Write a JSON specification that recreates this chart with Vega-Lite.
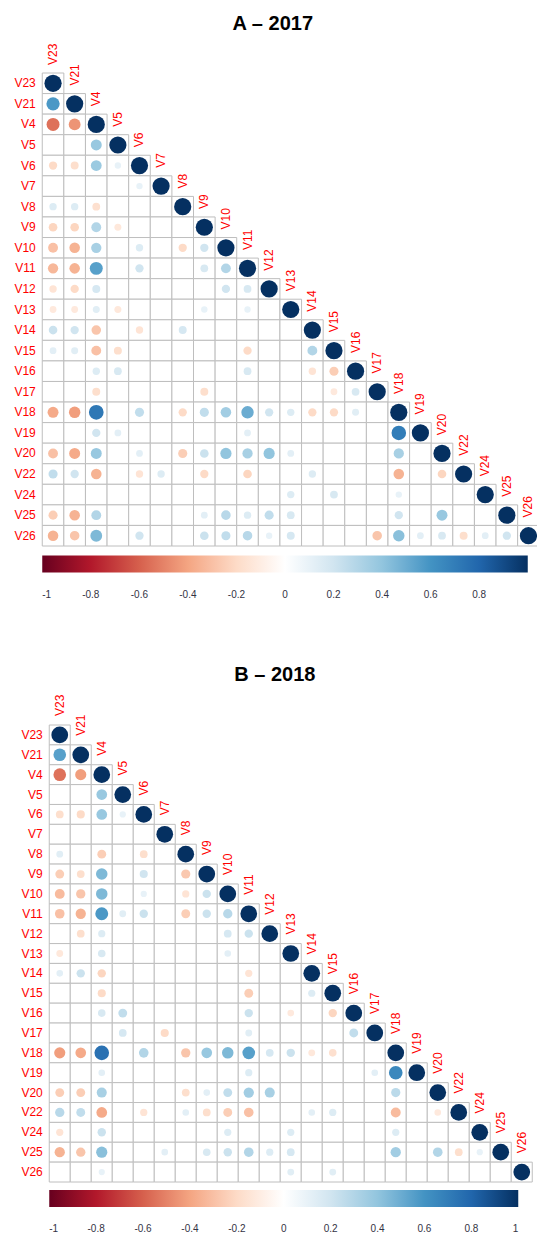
{
"$schema": "https://vega.github.io/schema/vega-lite/v6.json",
"padding": {"left": 13, "top": 13, "right": 0, "bottom": 0},
"config": {"view": {"stroke": null}, "axis": {"labelFont": "Liberation Sans"}, "legend": {"labelFont": "Liberation Sans"}, "text": {"font": "Liberation Sans"}},
"datasets": {
"A": [
{"x":"V23","y":"V23","r":1},
{"x":"V23","y":"V21","r":0.58},{"x":"V21","y":"V21","r":1},
{"x":"V23","y":"V4","r":-0.55},{"x":"V21","y":"V4","r":-0.45},{"x":"V4","y":"V4","r":1},
{"x":"V23","y":"V5","r":0},{"x":"V21","y":"V5","r":0},{"x":"V4","y":"V5","r":0.38},{"x":"V5","y":"V5","r":1},
{"x":"V23","y":"V6","r":-0.2},{"x":"V21","y":"V6","r":-0.18},{"x":"V4","y":"V6","r":0.37},{"x":"V5","y":"V6","r":0.1},{"x":"V6","y":"V6","r":1},
{"x":"V23","y":"V7","r":0},{"x":"V21","y":"V7","r":0},{"x":"V4","y":"V7","r":0},{"x":"V5","y":"V7","r":0},{"x":"V6","y":"V7","r":0.1},{"x":"V7","y":"V7","r":1},
{"x":"V23","y":"V8","r":0.15},{"x":"V21","y":"V8","r":0.15},{"x":"V4","y":"V8","r":-0.17},{"x":"V5","y":"V8","r":0},{"x":"V6","y":"V8","r":0},{"x":"V7","y":"V8","r":0},{"x":"V8","y":"V8","r":1},
{"x":"V23","y":"V9","r":-0.22},{"x":"V21","y":"V9","r":-0.22},{"x":"V4","y":"V9","r":0.3},{"x":"V5","y":"V9","r":-0.13},{"x":"V6","y":"V9","r":0},{"x":"V7","y":"V9","r":0},{"x":"V8","y":"V9","r":0},{"x":"V9","y":"V9","r":1},
{"x":"V23","y":"V10","r":-0.3},{"x":"V21","y":"V10","r":-0.35},{"x":"V4","y":"V10","r":0.33},{"x":"V5","y":"V10","r":0},{"x":"V6","y":"V10","r":0.15},{"x":"V7","y":"V10","r":0},{"x":"V8","y":"V10","r":-0.2},{"x":"V9","y":"V10","r":0.2},{"x":"V10","y":"V10","r":1},
{"x":"V23","y":"V11","r":-0.33},{"x":"V21","y":"V11","r":-0.35},{"x":"V4","y":"V11","r":0.55},{"x":"V5","y":"V11","r":0},{"x":"V6","y":"V11","r":0.2},{"x":"V7","y":"V11","r":0},{"x":"V8","y":"V11","r":0},{"x":"V9","y":"V11","r":0.17},{"x":"V10","y":"V11","r":0.3},{"x":"V11","y":"V11","r":1},
{"x":"V23","y":"V12","r":-0.15},{"x":"V21","y":"V12","r":-0.2},{"x":"V4","y":"V12","r":0.18},{"x":"V5","y":"V12","r":0},{"x":"V6","y":"V12","r":0},{"x":"V7","y":"V12","r":0},{"x":"V8","y":"V12","r":0},{"x":"V9","y":"V12","r":0},{"x":"V10","y":"V12","r":0.2},{"x":"V11","y":"V12","r":0.17},{"x":"V12","y":"V12","r":1},
{"x":"V23","y":"V13","r":-0.12},{"x":"V21","y":"V13","r":-0.12},{"x":"V4","y":"V13","r":0.13},{"x":"V5","y":"V13","r":-0.13},{"x":"V6","y":"V13","r":0},{"x":"V7","y":"V13","r":0},{"x":"V8","y":"V13","r":0},{"x":"V9","y":"V13","r":0.1},{"x":"V10","y":"V13","r":0},{"x":"V11","y":"V13","r":0.1},{"x":"V12","y":"V13","r":0},{"x":"V13","y":"V13","r":1},
{"x":"V23","y":"V14","r":0.22},{"x":"V21","y":"V14","r":0.2},{"x":"V4","y":"V14","r":-0.28},{"x":"V5","y":"V14","r":0},{"x":"V6","y":"V14","r":-0.15},{"x":"V7","y":"V14","r":0},{"x":"V8","y":"V14","r":0.18},{"x":"V9","y":"V14","r":0},{"x":"V10","y":"V14","r":0},{"x":"V11","y":"V14","r":0},{"x":"V12","y":"V14","r":0},{"x":"V13","y":"V14","r":0},{"x":"V14","y":"V14","r":1},
{"x":"V23","y":"V15","r":0.12},{"x":"V21","y":"V15","r":0.13},{"x":"V4","y":"V15","r":-0.3},{"x":"V5","y":"V15","r":-0.18},{"x":"V6","y":"V15","r":0},{"x":"V7","y":"V15","r":0},{"x":"V8","y":"V15","r":0},{"x":"V9","y":"V15","r":0},{"x":"V10","y":"V15","r":0},{"x":"V11","y":"V15","r":-0.2},{"x":"V12","y":"V15","r":0},{"x":"V13","y":"V15","r":0},{"x":"V14","y":"V15","r":0.3},{"x":"V15","y":"V15","r":1},
{"x":"V23","y":"V16","r":0},{"x":"V21","y":"V16","r":0},{"x":"V4","y":"V16","r":0.15},{"x":"V5","y":"V16","r":0.17},{"x":"V6","y":"V16","r":0},{"x":"V7","y":"V16","r":0},{"x":"V8","y":"V16","r":0},{"x":"V9","y":"V16","r":0},{"x":"V10","y":"V16","r":0},{"x":"V11","y":"V16","r":0.17},{"x":"V12","y":"V16","r":0},{"x":"V13","y":"V16","r":0},{"x":"V14","y":"V16","r":-0.15},{"x":"V15","y":"V16","r":-0.25},{"x":"V16","y":"V16","r":1},
{"x":"V23","y":"V17","r":0},{"x":"V21","y":"V17","r":0},{"x":"V4","y":"V17","r":-0.18},{"x":"V5","y":"V17","r":0},{"x":"V6","y":"V17","r":0},{"x":"V7","y":"V17","r":0},{"x":"V8","y":"V17","r":0},{"x":"V9","y":"V17","r":-0.18},{"x":"V10","y":"V17","r":0},{"x":"V11","y":"V17","r":0},{"x":"V12","y":"V17","r":0},{"x":"V13","y":"V17","r":0},{"x":"V14","y":"V17","r":0},{"x":"V15","y":"V17","r":-0.12},{"x":"V16","y":"V17","r":0.17},{"x":"V17","y":"V17","r":1},
{"x":"V23","y":"V18","r":-0.38},{"x":"V21","y":"V18","r":-0.42},{"x":"V4","y":"V18","r":0.72},{"x":"V5","y":"V18","r":0},{"x":"V6","y":"V18","r":0.25},{"x":"V7","y":"V18","r":0},{"x":"V8","y":"V18","r":-0.2},{"x":"V9","y":"V18","r":0.25},{"x":"V10","y":"V18","r":0.35},{"x":"V11","y":"V18","r":0.5},{"x":"V12","y":"V18","r":0.2},{"x":"V13","y":"V18","r":0.15},{"x":"V14","y":"V18","r":-0.2},{"x":"V15","y":"V18","r":-0.2},{"x":"V16","y":"V18","r":0.13},{"x":"V17","y":"V18","r":0},{"x":"V18","y":"V18","r":1},
{"x":"V23","y":"V19","r":0},{"x":"V21","y":"V19","r":0},{"x":"V4","y":"V19","r":0.2},{"x":"V5","y":"V19","r":0.12},{"x":"V6","y":"V19","r":0},{"x":"V7","y":"V19","r":0},{"x":"V8","y":"V19","r":0},{"x":"V9","y":"V19","r":0},{"x":"V10","y":"V19","r":0},{"x":"V11","y":"V19","r":0.12},{"x":"V12","y":"V19","r":0},{"x":"V13","y":"V19","r":0},{"x":"V14","y":"V19","r":0},{"x":"V15","y":"V19","r":0},{"x":"V16","y":"V19","r":0},{"x":"V17","y":"V19","r":0},{"x":"V18","y":"V19","r":0.7},{"x":"V19","y":"V19","r":1},
{"x":"V23","y":"V20","r":-0.3},{"x":"V21","y":"V20","r":-0.38},{"x":"V4","y":"V20","r":0.38},{"x":"V5","y":"V20","r":0},{"x":"V6","y":"V20","r":0.12},{"x":"V7","y":"V20","r":0},{"x":"V8","y":"V20","r":-0.25},{"x":"V9","y":"V20","r":0.22},{"x":"V10","y":"V20","r":0.4},{"x":"V11","y":"V20","r":0.33},{"x":"V12","y":"V20","r":0.4},{"x":"V13","y":"V20","r":0.12},{"x":"V14","y":"V20","r":0},{"x":"V15","y":"V20","r":0},{"x":"V16","y":"V20","r":0},{"x":"V17","y":"V20","r":0},{"x":"V18","y":"V20","r":0.33},{"x":"V19","y":"V20","r":0},{"x":"V20","y":"V20","r":1},
{"x":"V23","y":"V22","r":0.25},{"x":"V21","y":"V22","r":0.2},{"x":"V4","y":"V22","r":-0.35},{"x":"V5","y":"V22","r":0},{"x":"V6","y":"V22","r":-0.15},{"x":"V7","y":"V22","r":0.15},{"x":"V8","y":"V22","r":0},{"x":"V9","y":"V22","r":-0.2},{"x":"V10","y":"V22","r":0},{"x":"V11","y":"V22","r":-0.22},{"x":"V12","y":"V22","r":0},{"x":"V13","y":"V22","r":0},{"x":"V14","y":"V22","r":0.15},{"x":"V15","y":"V22","r":0},{"x":"V16","y":"V22","r":0},{"x":"V17","y":"V22","r":0},{"x":"V18","y":"V22","r":-0.35},{"x":"V19","y":"V22","r":0},{"x":"V20","y":"V22","r":-0.22},{"x":"V22","y":"V22","r":1},
{"x":"V23","y":"V24","r":0},{"x":"V21","y":"V24","r":0},{"x":"V4","y":"V24","r":0},{"x":"V5","y":"V24","r":0},{"x":"V6","y":"V24","r":0},{"x":"V7","y":"V24","r":0},{"x":"V8","y":"V24","r":0},{"x":"V9","y":"V24","r":0},{"x":"V10","y":"V24","r":0},{"x":"V11","y":"V24","r":0},{"x":"V12","y":"V24","r":0},{"x":"V13","y":"V24","r":0.15},{"x":"V14","y":"V24","r":0},{"x":"V15","y":"V24","r":0.17},{"x":"V16","y":"V24","r":0},{"x":"V17","y":"V24","r":0},{"x":"V18","y":"V24","r":0.1},{"x":"V19","y":"V24","r":0},{"x":"V20","y":"V24","r":0},{"x":"V22","y":"V24","r":0},{"x":"V24","y":"V24","r":1},
{"x":"V23","y":"V25","r":-0.25},{"x":"V21","y":"V25","r":-0.35},{"x":"V4","y":"V25","r":0.3},{"x":"V5","y":"V25","r":0},{"x":"V6","y":"V25","r":0},{"x":"V7","y":"V25","r":0},{"x":"V8","y":"V25","r":0},{"x":"V9","y":"V25","r":0.12},{"x":"V10","y":"V25","r":0.28},{"x":"V11","y":"V25","r":0.15},{"x":"V12","y":"V25","r":0.25},{"x":"V13","y":"V25","r":0.17},{"x":"V14","y":"V25","r":0},{"x":"V15","y":"V25","r":0},{"x":"V16","y":"V25","r":0},{"x":"V17","y":"V25","r":0},{"x":"V18","y":"V25","r":0.2},{"x":"V19","y":"V25","r":0},{"x":"V20","y":"V25","r":0.38},{"x":"V22","y":"V25","r":0},{"x":"V24","y":"V25","r":0},{"x":"V25","y":"V25","r":1},
{"x":"V23","y":"V26","r":-0.35},{"x":"V21","y":"V26","r":-0.28},{"x":"V4","y":"V26","r":0.45},{"x":"V5","y":"V26","r":0},{"x":"V6","y":"V26","r":0.2},{"x":"V7","y":"V26","r":0},{"x":"V8","y":"V26","r":0},{"x":"V9","y":"V26","r":0.22},{"x":"V10","y":"V26","r":0.25},{"x":"V11","y":"V26","r":0.28},{"x":"V12","y":"V26","r":0.1},{"x":"V13","y":"V26","r":0.18},{"x":"V14","y":"V26","r":0},{"x":"V15","y":"V26","r":0},{"x":"V16","y":"V26","r":0},{"x":"V17","y":"V26","r":-0.28},{"x":"V18","y":"V26","r":0.42},{"x":"V19","y":"V26","r":0.12},{"x":"V20","y":"V26","r":0.17},{"x":"V22","y":"V26","r":-0.18},{"x":"V24","y":"V26","r":0.12},{"x":"V25","y":"V26","r":0.2},{"x":"V26","y":"V26","r":1}
],
"B": [
{"x":"V23","y":"V23","r":1},
{"x":"V23","y":"V21","r":0.55},{"x":"V21","y":"V21","r":1},
{"x":"V23","y":"V4","r":-0.55},{"x":"V21","y":"V4","r":-0.42},{"x":"V4","y":"V4","r":1},
{"x":"V23","y":"V5","r":0},{"x":"V21","y":"V5","r":0},{"x":"V4","y":"V5","r":0.38},{"x":"V5","y":"V5","r":1},
{"x":"V23","y":"V6","r":-0.18},{"x":"V21","y":"V6","r":-0.2},{"x":"V4","y":"V6","r":0.38},{"x":"V5","y":"V6","r":0.1},{"x":"V6","y":"V6","r":1},
{"x":"V23","y":"V7","r":0},{"x":"V21","y":"V7","r":0},{"x":"V4","y":"V7","r":0},{"x":"V5","y":"V7","r":0},{"x":"V6","y":"V7","r":0},{"x":"V7","y":"V7","r":1},
{"x":"V23","y":"V8","r":0.13},{"x":"V21","y":"V8","r":0},{"x":"V4","y":"V8","r":-0.25},{"x":"V5","y":"V8","r":0},{"x":"V6","y":"V8","r":-0.18},{"x":"V7","y":"V8","r":0},{"x":"V8","y":"V8","r":1},
{"x":"V23","y":"V9","r":-0.25},{"x":"V21","y":"V9","r":-0.18},{"x":"V4","y":"V9","r":0.45},{"x":"V5","y":"V9","r":0},{"x":"V6","y":"V9","r":0.2},{"x":"V7","y":"V9","r":0},{"x":"V8","y":"V9","r":-0.27},{"x":"V9","y":"V9","r":1},
{"x":"V23","y":"V10","r":-0.32},{"x":"V21","y":"V10","r":-0.28},{"x":"V4","y":"V10","r":0.45},{"x":"V5","y":"V10","r":0},{"x":"V6","y":"V10","r":0.1},{"x":"V7","y":"V10","r":0},{"x":"V8","y":"V10","r":-0.15},{"x":"V9","y":"V10","r":0.22},{"x":"V10","y":"V10","r":1},
{"x":"V23","y":"V11","r":-0.3},{"x":"V21","y":"V11","r":-0.35},{"x":"V4","y":"V11","r":0.58},{"x":"V5","y":"V11","r":0.13},{"x":"V6","y":"V11","r":0.22},{"x":"V7","y":"V11","r":0},{"x":"V8","y":"V11","r":-0.25},{"x":"V9","y":"V11","r":0.22},{"x":"V10","y":"V11","r":0.28},{"x":"V11","y":"V11","r":1},
{"x":"V23","y":"V12","r":0},{"x":"V21","y":"V12","r":-0.18},{"x":"V4","y":"V12","r":0.15},{"x":"V5","y":"V12","r":0},{"x":"V6","y":"V12","r":0},{"x":"V7","y":"V12","r":0},{"x":"V8","y":"V12","r":0},{"x":"V9","y":"V12","r":0},{"x":"V10","y":"V12","r":0.18},{"x":"V11","y":"V12","r":0.22},{"x":"V12","y":"V12","r":1},
{"x":"V23","y":"V13","r":-0.13},{"x":"V21","y":"V13","r":0},{"x":"V4","y":"V13","r":0.17},{"x":"V5","y":"V13","r":0},{"x":"V6","y":"V13","r":0},{"x":"V7","y":"V13","r":0},{"x":"V8","y":"V13","r":0},{"x":"V9","y":"V13","r":0},{"x":"V10","y":"V13","r":0.12},{"x":"V11","y":"V13","r":0},{"x":"V12","y":"V13","r":0},{"x":"V13","y":"V13","r":1},
{"x":"V23","y":"V14","r":0.12},{"x":"V21","y":"V14","r":0.22},{"x":"V4","y":"V14","r":-0.22},{"x":"V5","y":"V14","r":0},{"x":"V6","y":"V14","r":0},{"x":"V7","y":"V14","r":0},{"x":"V8","y":"V14","r":0},{"x":"V9","y":"V14","r":0},{"x":"V10","y":"V14","r":0},{"x":"V11","y":"V14","r":-0.15},{"x":"V12","y":"V14","r":0},{"x":"V13","y":"V14","r":0},{"x":"V14","y":"V14","r":1},
{"x":"V23","y":"V15","r":0},{"x":"V21","y":"V15","r":0},{"x":"V4","y":"V15","r":-0.2},{"x":"V5","y":"V15","r":0},{"x":"V6","y":"V15","r":0},{"x":"V7","y":"V15","r":0},{"x":"V8","y":"V15","r":0},{"x":"V9","y":"V15","r":0},{"x":"V10","y":"V15","r":0},{"x":"V11","y":"V15","r":-0.25},{"x":"V12","y":"V15","r":0},{"x":"V13","y":"V15","r":0},{"x":"V14","y":"V15","r":0.15},{"x":"V15","y":"V15","r":1},
{"x":"V23","y":"V16","r":0},{"x":"V21","y":"V16","r":0},{"x":"V4","y":"V16","r":0.17},{"x":"V5","y":"V16","r":0.25},{"x":"V6","y":"V16","r":0},{"x":"V7","y":"V16","r":0},{"x":"V8","y":"V16","r":0},{"x":"V9","y":"V16","r":0},{"x":"V10","y":"V16","r":0},{"x":"V11","y":"V16","r":0.22},{"x":"V12","y":"V16","r":0},{"x":"V13","y":"V16","r":-0.12},{"x":"V14","y":"V16","r":0},{"x":"V15","y":"V16","r":-0.22},{"x":"V16","y":"V16","r":1},
{"x":"V23","y":"V17","r":0},{"x":"V21","y":"V17","r":0},{"x":"V4","y":"V17","r":0},{"x":"V5","y":"V17","r":0.18},{"x":"V6","y":"V17","r":0},{"x":"V7","y":"V17","r":-0.2},{"x":"V8","y":"V17","r":0},{"x":"V9","y":"V17","r":0},{"x":"V10","y":"V17","r":0},{"x":"V11","y":"V17","r":0.13},{"x":"V12","y":"V17","r":0},{"x":"V13","y":"V17","r":0},{"x":"V14","y":"V17","r":0},{"x":"V15","y":"V17","r":0},{"x":"V16","y":"V17","r":0.25},{"x":"V17","y":"V17","r":1},
{"x":"V23","y":"V18","r":-0.42},{"x":"V21","y":"V18","r":-0.38},{"x":"V4","y":"V18","r":0.75},{"x":"V5","y":"V18","r":0},{"x":"V6","y":"V18","r":0.3},{"x":"V7","y":"V18","r":0},{"x":"V8","y":"V18","r":-0.28},{"x":"V9","y":"V18","r":0.38},{"x":"V10","y":"V18","r":0.45},{"x":"V11","y":"V18","r":0.55},{"x":"V12","y":"V18","r":0.18},{"x":"V13","y":"V18","r":0.22},{"x":"V14","y":"V18","r":-0.13},{"x":"V15","y":"V18","r":-0.17},{"x":"V16","y":"V18","r":0},{"x":"V17","y":"V18","r":0},{"x":"V18","y":"V18","r":1},
{"x":"V23","y":"V19","r":0},{"x":"V21","y":"V19","r":0},{"x":"V4","y":"V19","r":0.12},{"x":"V5","y":"V19","r":0},{"x":"V6","y":"V19","r":0},{"x":"V7","y":"V19","r":0},{"x":"V8","y":"V19","r":0},{"x":"V9","y":"V19","r":0},{"x":"V10","y":"V19","r":0},{"x":"V11","y":"V19","r":0.15},{"x":"V12","y":"V19","r":0},{"x":"V13","y":"V19","r":0},{"x":"V14","y":"V19","r":0},{"x":"V15","y":"V19","r":0},{"x":"V16","y":"V19","r":0},{"x":"V17","y":"V19","r":0.12},{"x":"V18","y":"V19","r":0.65},{"x":"V19","y":"V19","r":1},
{"x":"V23","y":"V20","r":-0.25},{"x":"V21","y":"V20","r":-0.25},{"x":"V4","y":"V20","r":0.33},{"x":"V5","y":"V20","r":0},{"x":"V6","y":"V20","r":0},{"x":"V7","y":"V20","r":0},{"x":"V8","y":"V20","r":-0.18},{"x":"V9","y":"V20","r":0.12},{"x":"V10","y":"V20","r":0.25},{"x":"V11","y":"V20","r":0.35},{"x":"V12","y":"V20","r":0.33},{"x":"V13","y":"V20","r":0},{"x":"V14","y":"V20","r":0},{"x":"V15","y":"V20","r":0},{"x":"V16","y":"V20","r":0},{"x":"V17","y":"V20","r":0},{"x":"V18","y":"V20","r":0.27},{"x":"V19","y":"V20","r":0},{"x":"V20","y":"V20","r":1},
{"x":"V23","y":"V22","r":0.28},{"x":"V21","y":"V22","r":0.25},{"x":"V4","y":"V22","r":-0.38},{"x":"V5","y":"V22","r":0},{"x":"V6","y":"V22","r":-0.15},{"x":"V7","y":"V22","r":0},{"x":"V8","y":"V22","r":0.12},{"x":"V9","y":"V22","r":-0.18},{"x":"V10","y":"V22","r":-0.25},{"x":"V11","y":"V22","r":-0.3},{"x":"V12","y":"V22","r":0},{"x":"V13","y":"V22","r":0},{"x":"V14","y":"V22","r":0.12},{"x":"V15","y":"V22","r":0.15},{"x":"V16","y":"V22","r":0},{"x":"V17","y":"V22","r":0},{"x":"V18","y":"V22","r":-0.32},{"x":"V19","y":"V22","r":0},{"x":"V20","y":"V22","r":-0.12},{"x":"V22","y":"V22","r":1},
{"x":"V23","y":"V24","r":-0.15},{"x":"V21","y":"V24","r":0},{"x":"V4","y":"V24","r":0.22},{"x":"V5","y":"V24","r":0},{"x":"V6","y":"V24","r":0},{"x":"V7","y":"V24","r":0},{"x":"V8","y":"V24","r":0},{"x":"V9","y":"V24","r":0},{"x":"V10","y":"V24","r":0.15},{"x":"V11","y":"V24","r":0},{"x":"V12","y":"V24","r":0},{"x":"V13","y":"V24","r":0.15},{"x":"V14","y":"V24","r":0},{"x":"V15","y":"V24","r":0},{"x":"V16","y":"V24","r":0},{"x":"V17","y":"V24","r":0},{"x":"V18","y":"V24","r":0.15},{"x":"V19","y":"V24","r":0},{"x":"V20","y":"V24","r":0},{"x":"V22","y":"V24","r":0},{"x":"V24","y":"V24","r":1},
{"x":"V23","y":"V25","r":-0.35},{"x":"V21","y":"V25","r":-0.28},{"x":"V4","y":"V25","r":0.42},{"x":"V5","y":"V25","r":0},{"x":"V6","y":"V25","r":0},{"x":"V7","y":"V25","r":0.12},{"x":"V8","y":"V25","r":0},{"x":"V9","y":"V25","r":0.17},{"x":"V10","y":"V25","r":0.22},{"x":"V11","y":"V25","r":0.3},{"x":"V12","y":"V25","r":0.15},{"x":"V13","y":"V25","r":0.18},{"x":"V14","y":"V25","r":0},{"x":"V15","y":"V25","r":0},{"x":"V16","y":"V25","r":0},{"x":"V17","y":"V25","r":0},{"x":"V18","y":"V25","r":0.35},{"x":"V19","y":"V25","r":0},{"x":"V20","y":"V25","r":0.3},{"x":"V22","y":"V25","r":-0.18},{"x":"V24","y":"V25","r":0.1},{"x":"V25","y":"V25","r":1},
{"x":"V23","y":"V26","r":0},{"x":"V21","y":"V26","r":0},{"x":"V4","y":"V26","r":0.1},{"x":"V5","y":"V26","r":0},{"x":"V6","y":"V26","r":0},{"x":"V7","y":"V26","r":0},{"x":"V8","y":"V26","r":0},{"x":"V9","y":"V26","r":0},{"x":"V10","y":"V26","r":0},{"x":"V11","y":"V26","r":0},{"x":"V12","y":"V26","r":0},{"x":"V13","y":"V26","r":0.13},{"x":"V14","y":"V26","r":0},{"x":"V15","y":"V26","r":0.13},{"x":"V16","y":"V26","r":0},{"x":"V17","y":"V26","r":0},{"x":"V18","y":"V26","r":0},{"x":"V19","y":"V26","r":0},{"x":"V20","y":"V26","r":0},{"x":"V22","y":"V26","r":0},{"x":"V24","y":"V26","r":0},{"x":"V25","y":"V26","r":0},{"x":"V26","y":"V26","r":1}
]
},
"vconcat": [
{
"title": {"text": "A – 2017", "fontSize": 20, "font": "Liberation Sans", "fontWeight": "bold", "anchor": "middle", "frame": "bounds", "offset": 10, "dx": -4, "color": "#000000"},
"width": 497, "height": 473,
"data": {"name": "A"},
"encoding": {
"x": {"field": "x", "type": "nominal", "scale": {"domain": ["V23","V21","V4","V5","V6","V7","V8","V9","V10","V11","V12","V13","V14","V15","V16","V17","V18","V19","V20","V22","V24","V25","V26"], "paddingInner": 0, "paddingOuter": 0}, "axis": null},
"y": {"field": "y", "type": "nominal", "scale": {"domain": ["V23","V21","V4","V5","V6","V7","V8","V9","V10","V11","V12","V13","V14","V15","V16","V17","V18","V19","V20","V22","V24","V25","V26"], "paddingInner": 0, "paddingOuter": 0}, "axis": {"title": null, "domain": false, "ticks": false, "tickSize": 0, "grid": false, "labelColor": "#FF0000", "labelFontSize": 12, "labelPadding": 7}}
},
"layer": [
{"mark": {"type": "rect", "fill": "#FFFFFF", "stroke": "#BEBEBE", "strokeWidth": 1}},
{"transform": [{"filter": "datum.r != 0"}], "mark": {"type": "circle", "opacity": 1},
 "encoding": {
 "size": {"field": "r", "type": "quantitative", "scale": {"domain": [-1, 0, 1], "range": [296, 12, 296]}, "legend": null},
 "color": {"field": "r", "type": "quantitative", "scale": {"domain": [-1,-0.8,-0.6,-0.4,-0.2,0,0.2,0.4,0.6,0.8,1], "range": ["#67001F","#B2182B","#D6604D","#F4A582","#FDDBC7","#FFFFFF","#D1E5F0","#92C5DE","#4393C3","#2166AC","#053061"], "interpolate": "rgb"},
  "legend": {"orient": "none", "legendX": 0, "legendY": 482.5, "direction": "horizontal", "gradientLength": 485.5, "gradientThickness": 17, "title": null, "values": [-1,-0.8,-0.6,-0.4,-0.2,0,0.2,0.4,0.6,0.8], "format": "~g", "labelAlign": "center", "labelOffset": 17, "labelFontSize": 10, "labelColor": "#333344", "gradientStrokeWidth": 0, "padding": 0, "labelExpr": "replace(datum.label, '−', '-')"}}
 }},
{"transform": [{"filter": "datum.x == datum.y"}], "mark": {"type": "text", "angle": 270, "align": "left", "baseline": "middle", "dx": 8, "fontSize": 12, "color": "#FF0000"},
 "encoding": {"y": {"field": "y", "type": "nominal", "bandPosition": 0}, "text": {"field": "x", "type": "nominal"}}}
]
},
{
"title": {"text": "B – 2018", "fontSize": 20, "font": "Liberation Sans", "fontWeight": "bold", "anchor": "middle", "frame": "bounds", "offset": 10, "dx": -2, "color": "#000000"},
"width": 483, "height": 457,
"data": {"name": "B"},
"encoding": {
"x": {"field": "x", "type": "nominal", "scale": {"domain": ["V23","V21","V4","V5","V6","V7","V8","V9","V10","V11","V12","V13","V14","V15","V16","V17","V18","V19","V20","V22","V24","V25","V26"], "paddingInner": 0, "paddingOuter": 0}, "axis": null},
"y": {"field": "y", "type": "nominal", "scale": {"domain": ["V23","V21","V4","V5","V6","V7","V8","V9","V10","V11","V12","V13","V14","V15","V16","V17","V18","V19","V20","V22","V24","V25","V26"], "paddingInner": 0, "paddingOuter": 0}, "axis": {"title": null, "domain": false, "ticks": false, "tickSize": 0, "grid": false, "labelColor": "#FF0000", "labelFontSize": 12, "labelPadding": 7}}
},
"layer": [
{"mark": {"type": "rect", "fill": "#FFFFFF", "stroke": "#BEBEBE", "strokeWidth": 1}},
{"transform": [{"filter": "datum.r != 0"}], "mark": {"type": "circle", "opacity": 1},
 "encoding": {
 "size": {"field": "r", "type": "quantitative", "scale": {"domain": [-1, 0, 1], "range": [280, 12, 280]}, "legend": null},
 "color": {"field": "r", "type": "quantitative", "scale": {"domain": [-1,-0.8,-0.6,-0.4,-0.2,0,0.2,0.4,0.6,0.8,1], "range": ["#67001F","#B2182B","#D6604D","#F4A582","#FDDBC7","#FFFFFF","#D1E5F0","#92C5DE","#4393C3","#2166AC","#053061"], "interpolate": "rgb"},
  "legend": {"orient": "none", "legendX": 0, "legendY": 465, "direction": "horizontal", "gradientLength": 469, "gradientThickness": 17, "title": null, "values": [-1,-0.8,-0.6,-0.4,-0.2,0,0.2,0.4,0.6,0.8,1], "format": "~g", "labelAlign": "center", "labelOffset": 17, "labelFontSize": 10, "labelColor": "#333344", "gradientStrokeWidth": 0, "padding": 0, "labelExpr": "replace(datum.label, '−', '-')"}}
 }},
{"transform": [{"filter": "datum.x == datum.y"}], "mark": {"type": "text", "angle": 270, "align": "left", "baseline": "middle", "dx": 9, "fontSize": 12, "color": "#FF0000"},
 "encoding": {"y": {"field": "y", "type": "nominal", "bandPosition": 0}, "text": {"field": "x", "type": "nominal"}}}
]
}
],
"spacing": 64,
"center": true,
"resolve": {"scale": {"color": "independent", "size": "independent", "x": "independent", "y": "independent"}, "legend": {"color": "independent", "size": "independent"}}
}
